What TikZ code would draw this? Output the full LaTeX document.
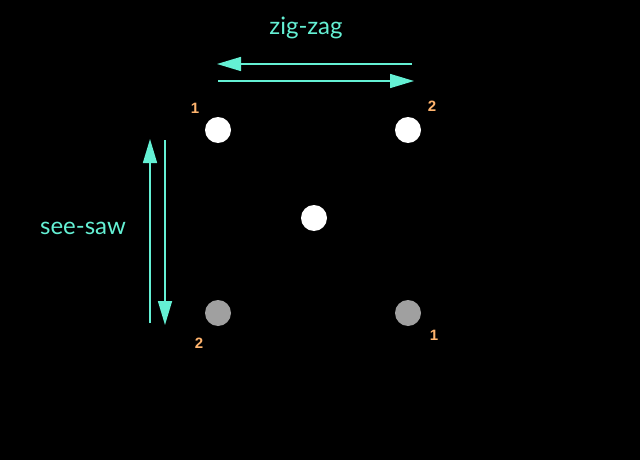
\documentclass[tikz,border=0pt]{standalone}
\usepackage{fontspec}
\setmainfont{Lato}
\newfontfamily\numfont{Liberation Sans}
\usetikzlibrary{arrows.meta}
\definecolor{aqua}{RGB}{100,240,212}
\definecolor{numc}{RGB}{255,180,110}
\definecolor{dimdot}{RGB}{160,160,160}
\begin{document}
\begin{tikzpicture}[x=1pt,y=-1pt,
  conn/.style={draw=aqua,line width=1.6pt,-{Triangle[length=24pt,width=14pt]}},
  dotw/.style={circle,fill=white,minimum size=26pt,inner sep=0pt},
  dotg/.style={circle,fill=dimdot,minimum size=26pt,inner sep=0pt},
  num/.style={text=numc,font=\fontsize{15}{15}\selectfont\numfont\bfseries,inner sep=0pt},
  lab/.style={text=aqua,font=\fontsize{24}{24}\selectfont,inner sep=0pt}]
\fill[black] (0,0) rectangle (640,460);
\useasboundingbox (0,0) rectangle (640,460);
\node[dotw] (tl) at (218,130) {};
\node[dotw] (tr) at (408,130) {};
\node[dotw] (c) at (314,218) {};
\node[dotg] (bl) at (218,313) {};
\node[dotg] (br) at (408,313) {};
\node[num] (n1) at (195,108) {1};
\node[num] (n2) at (432,106) {2};
\node[num] (n3) at (199,343) {2};
\node[num] (n4) at (434,335) {1};
\node[lab] (zz) at (306,28) {zig-zag};
\node[lab] (ss) at (83,228) {see-saw};
\coordinate (a1s) at (412,64);
\coordinate (a1e) at (217,64);
\coordinate (a2s) at (218,81);
\coordinate (a2e) at (414,81);
\coordinate (a3s) at (150,323);
\coordinate (a3e) at (150,139);
\coordinate (a4s) at (165,140);
\coordinate (a4e) at (165,325);
\draw[conn] (a1s) -- (a1e);
\draw[conn] (a2s) -- (a2e);
\draw[conn] (a3s) -- (a3e);
\draw[conn] (a4s) -- (a4e);
\end{tikzpicture}
\end{document}
